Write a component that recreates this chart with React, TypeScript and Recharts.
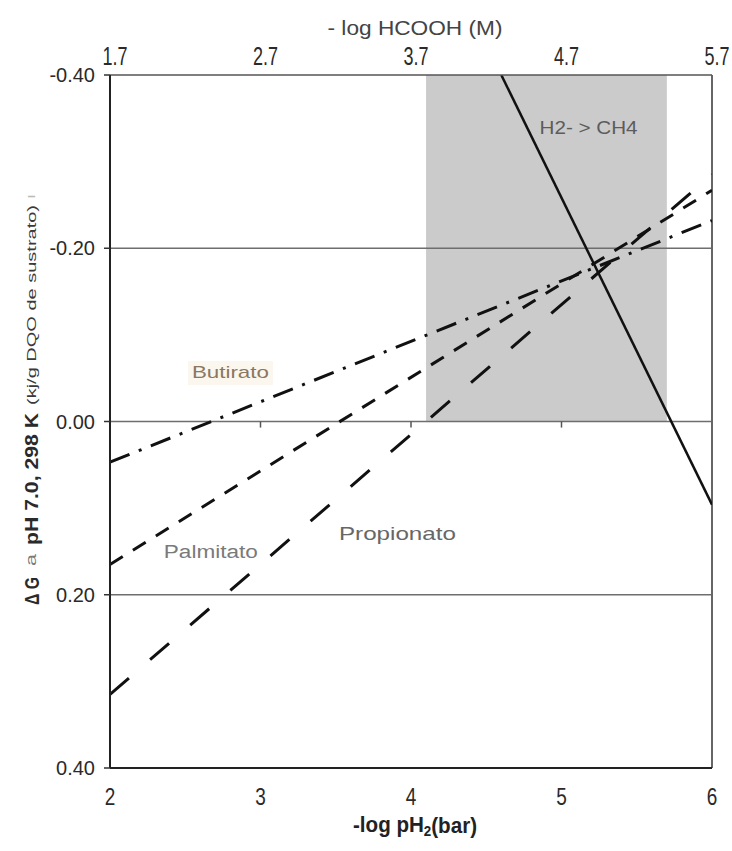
import { LineChart, Line, XAxis, YAxis, ReferenceArea, ReferenceLine, ReferenceDot } from "recharts";

// -log pH2 (bar) on the bottom, -log HCOOH (M) on top, ΔG on the left
const pH2Ticks = [2, 3, 4, 5, 6];
const hcoohTicks = [1.7, 2.7, 3.7, 4.7, 5.7];
const dgTicks = [-0.4, -0.2, 0, 0.2, 0.4];

// straight lines, read at both ends
const lineX = [2, 6];
const propionato = [0.315, -0.285];
const palmitato = [0.165, -0.267];
const butirato = [0.047, -0.232];

const h2X = [4.6, 6];
const h2Methane = [-0.4, 0.096];

// shaded window on the -log pH2 axis
const shadeX = [4.1, 5.7];

const toPoints = (xs: number[], ys: number[]) => xs.map((x, i) => ({ x, y: ys[i] }));

const propData = toPoints(lineX, propionato);
const palmData = toPoints(lineX, palmitato);
const butData = toPoints(lineX, butirato);
const h2Data = toPoints(h2X, h2Methane);
// invisible series so the top axis gets its ticks
const topData = hcoohTicks.map((x) => ({ x, y: 0 }));

const FONT = '"Liberation Sans", Arial, sans-serif';

const notes = [
  { text: "Butirato", x: 2.8, y: -0.056, color: "#8a7860", size: 17, len: 77, bg: "#fbf6ee" },
  { text: "Palmitato", x: 2.67, y: 0.151, color: "#7a7a7a", size: 18, len: 94 },
  { text: "Propionato", x: 3.91, y: 0.129, color: "#676767", size: 19, len: 117 },
  { text: "H2- > CH4", x: 5.18, y: -0.339, color: "#5c5c5c", size: 18, len: 98 },
];

const LeftTick = (props: any) => {
  const { x, y, payload } = props;
  return (
    <text x={x} y={y} textAnchor="end" dominantBaseline="central" fontSize={20} fill="#2a2a2a" fontFamily={FONT}>
      {Number(payload.value).toFixed(2)}
    </text>
  );
};

const BottomTick = (props: any) => {
  const { x, y, payload } = props;
  const cy = y + 29;
  return (
    <text
      x={x}
      y={cy}
      textAnchor="middle"
      dominantBaseline="central"
      fontSize={19}
      fill="#2a2a2a"
      fontFamily={FONT}
      transform={`translate(0 ${cy}) scale(1 1.3) translate(0 ${-cy})`}
    >
      {payload.value}
    </text>
  );
};

const TopTick = (props: any) => {
  const { x, y, payload } = props;
  const cy = y - 19;
  return (
    <text
      x={x + 5}
      y={cy}
      textAnchor="middle"
      dominantBaseline="central"
      fontSize={18}
      fill="#2a2a2a"
      fontFamily={FONT}
      transform={`translate(0 ${cy}) scale(1 1.4) translate(0 ${-cy})`}
    >
      {Number(payload.value).toFixed(1)}
    </text>
  );
};

const TopTitle = (props: any) => {
  const vb = props.viewBox || { x: 110, y: 0, width: 602, height: 75 };
  return (
    <text
      x={vb.x + vb.width / 2 + 4}
      y={vb.y + 27}
      textAnchor="middle"
      dominantBaseline="central"
      fontSize={21}
      fill="#444"
      fontFamily={FONT}
      textLength={175}
      lengthAdjust="spacingAndGlyphs"
    >
      - log HCOOH (M)
    </text>
  );
};

const BottomTitle = (props: any) => {
  const vb = props.viewBox || { x: 110, y: 768, width: 602, height: 83 };
  const cx = vb.x + vb.width / 2 + 4;
  const cy = vb.y + 57;
  return (
    <text
      x={cx}
      y={cy}
      textAnchor="middle"
      dominantBaseline="central"
      fontSize={17}
      fontWeight="bold"
      fill="#222"
      fontFamily={FONT}
      textLength={124}
      lengthAdjust="spacingAndGlyphs"
      transform={`translate(0 ${cy}) scale(1 1.25) translate(0 ${-cy})`}
    >
      -log pH
      <tspan fontSize={11} dy={5}>2</tspan>
      <tspan dy={-5}>(bar)</tspan>
    </text>
  );
};

const YTitle = (props: any) => {
  const vb = props.viewBox || { x: 0, y: 75, width: 110, height: 693 };
  const cx = vb.x + 31;
  const top = vb.y;
  const piece = (txt: string, bottom: number, len: number, size: number, weight: string, fill: string) => {
    const y0 = top + bottom;
    return (
      <text
        key={txt}
        x={cx}
        y={y0}
        transform={`rotate(-90 ${cx} ${y0})`}
        textAnchor="start"
        dominantBaseline="central"
        fontSize={size}
        fontWeight={weight}
        fill={fill}
        fontFamily={FONT}
        textLength={len}
        lengthAdjust="spacingAndGlyphs"
      >
        {txt}
      </text>
    );
  };
  return (
    <g>
      {piece("Δ G", 530, 28, 21, "bold", "#2a2a2a")}
      {piece("a", 491, 12, 14, "normal", "#7a7a7a")}
      {piece("pH 7.0, 298 K", 470, 132, 19, "bold", "#2a2a2a")}
      {piece("(kj/g DQO de sustrato)", 330, 200, 13, "normal", "#3a3a3a")}
      {piece("ı", 124, 5, 12, "normal", "#bbbbbb")}
    </g>
  );
};

const Note = (props: any) => {
  const { viewBox, text, color, size, len, bg } = props;
  const cx = viewBox.x + viewBox.width / 2;
  const cy = viewBox.y + viewBox.height / 2;
  return (
    <g>
      {bg && <rect x={cx - len / 2 - 4} y={cy - size * 0.7} width={len + 8} height={size * 1.4} fill={bg} />}
      <text
        x={cx}
        y={cy}
        textAnchor="middle"
        dominantBaseline="central"
        fontSize={size}
        fill={color}
        fontFamily={FONT}
        textLength={len}
        lengthAdjust="spacingAndGlyphs"
      >
        {text}
      </text>
    </g>
  );
};

export default function App() {
  return (
    <div style={{ position: "absolute", left: 0, top: 0, width: 732, height: 851, background: "#fff" }}>
      <LineChart width={732} height={851} margin={{ top: 0, right: 20, bottom: 0, left: 0 }}>
        <XAxis
          xAxisId="b"
          type="number"
          dataKey="x"
          domain={[2, 6]}
          ticks={pH2Ticks}
          height={83}
          tickSize={0}
          tickMargin={0}
          tickLine={false}
          axisLine={{ stroke: "#222", strokeWidth: 2 }}
          tick={<BottomTick />}
          label={{ content: (p: any) => <BottomTitle {...p} /> }}
          allowDataOverflow
        />
        <XAxis
          xAxisId="t"
          orientation="top"
          type="number"
          dataKey="x"
          domain={[1.7, 5.7]}
          ticks={hcoohTicks}
          height={75}
          tickSize={0}
          tickMargin={0}
          tickLine={false}
          axisLine={{ stroke: "#555", strokeWidth: 1.5 }}
          tick={<TopTick />}
          label={{ content: (p: any) => <TopTitle {...p} /> }}
          allowDataOverflow
        />
        <YAxis
          yAxisId="l"
          type="number"
          domain={[-0.4, 0.4]}
          reversed
          ticks={dgTicks}
          width={110}
          tickSize={6}
          tickMargin={9}
          tickLine={{ stroke: "#333", strokeWidth: 1.5 }}
          axisLine={{ stroke: "#222", strokeWidth: 2 }}
          tick={<LeftTick />}
          label={{ content: (p: any) => <YTitle {...p} /> }}
          allowDataOverflow
        />
        <ReferenceArea
          xAxisId="b"
          yAxisId="l"
          x1={shadeX[0]}
          x2={shadeX[1]}
          y1={-0.4}
          y2={0}
          fill="#cbcbcb"
          fillOpacity={1}
          stroke="none"
        />
        {dgTicks.slice(1, 4).map((v) => (
          <ReferenceLine key={v} xAxisId="b" yAxisId="l" y={v} stroke="#6e6e6e" strokeWidth={1.5} />
        ))}
        {pH2Ticks.slice(1, 4).map((v) => (
          <ReferenceLine
            key={"t" + v}
            xAxisId="b"
            yAxisId="l"
            segment={[{ x: v, y: 0 }, { x: v, y: 0.007 }]}
            stroke="#555"
            strokeWidth={1.5}
          />
        ))}
        <ReferenceLine xAxisId="b" yAxisId="l" x={6} stroke="#666" strokeWidth={2} />
        <Line xAxisId="t" yAxisId="l" data={topData} dataKey="y" stroke="none" dot={false} activeDot={false} isAnimationActive={false} />
        <Line xAxisId="b" yAxisId="l" data={propData} dataKey="y" type="linear" stroke="#111" strokeWidth={3} strokeDasharray="25 28" dot={false} isAnimationActive={false} />
        <Line xAxisId="b" yAxisId="l" data={palmData} dataKey="y" type="linear" stroke="#111" strokeWidth={3} strokeDasharray="15 12" dot={false} isAnimationActive={false} />
        <Line xAxisId="b" yAxisId="l" data={butData} dataKey="y" type="linear" stroke="#111" strokeWidth={3} strokeDasharray="21 10 3 10" dot={false} isAnimationActive={false} />
        <Line xAxisId="b" yAxisId="l" data={h2Data} dataKey="y" type="linear" stroke="#111" strokeWidth={2.5} dot={false} isAnimationActive={false} />
        {notes.map((n) => (
          <ReferenceDot
            key={n.text}
            xAxisId="b"
            yAxisId="l"
            x={n.x}
            y={n.y}
            r={0}
            fill="none"
            stroke="none"
            label={{ content: (p: any) => <Note {...p} {...n} /> }}
          />
        ))}
      </LineChart>
    </div>
  );
}
